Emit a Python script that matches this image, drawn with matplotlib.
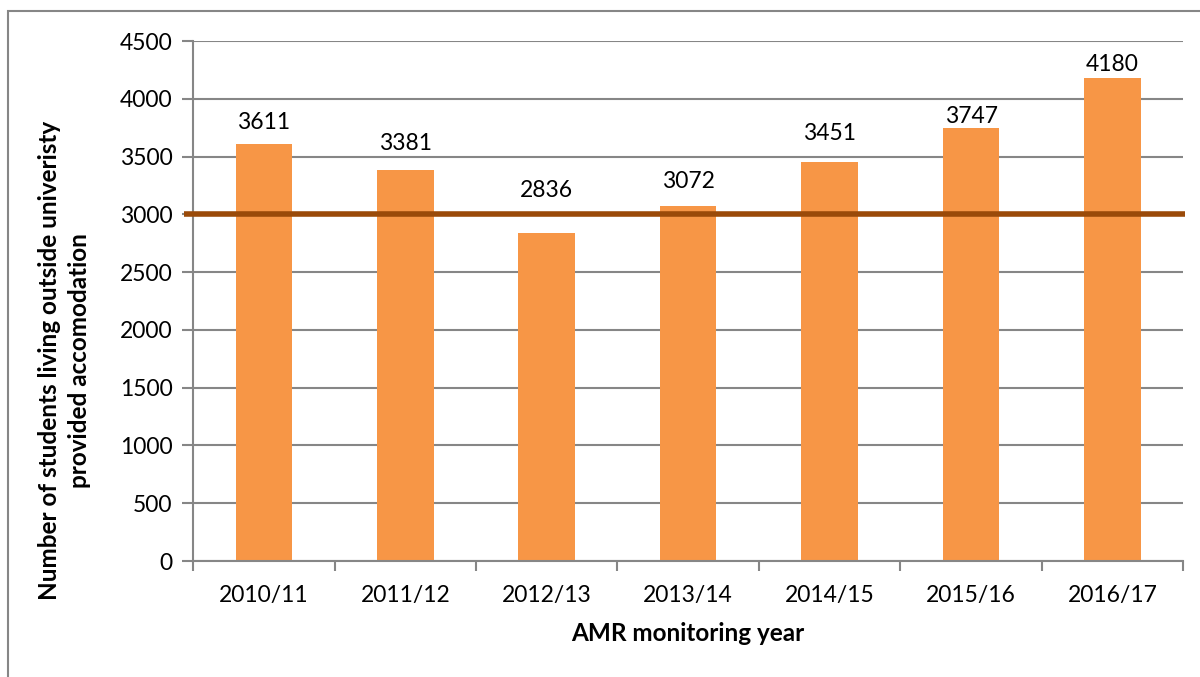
import matplotlib
matplotlib.use("Agg")
import matplotlib.pyplot as plt
import matplotlib.transforms as mtransforms
from matplotlib.patches import Rectangle

years = ["2010/11", "2011/12", "2012/13", "2013/14", "2014/15", "2015/16", "2016/17"]
students = [3611, 3381, 2836, 3072, 3451, 3747, 4180]
target = 3000

# label lift above each bar top (points), as placed in the original
label_lift = [15, 19.5, 31, 18, 21, 8.6, 9.4]

plt.rcParams["font.family"] = ["Lato", "DejaVu Sans"]

fig = plt.figure(figsize=(12, 6.77), dpi=100)
ax = fig.add_axes([0.161, 0.1713, 0.825, 0.7681])

x = list(range(len(years)))
ax.bar(x, students, width=0.4, color="#F79646", zorder=2)
for xi, v, d in zip(x, students, label_lift):
    ax.annotate(str(v), (xi, v), xytext=(0, d), textcoords="offset points",
                ha="center", va="center", fontsize=16.5, color="black", zorder=4)

# target line, runs slightly past the left axis
trans = mtransforms.blended_transform_factory(ax.transAxes, ax.transData)
ax.plot([-0.009, 1.002], [target, target], transform=trans, color="#9A4A09",
        lw=4, clip_on=False, zorder=3, solid_capstyle="butt")

ax.set_xlim(-0.5, len(years) - 0.5)
ax.set_ylim(0, 4500)
ax.set_yticks(range(0, 4501, 500))
ax.set_xticks(x)
ax.set_xticklabels(years)
ax.set_xticks([i - 0.5 for i in range(len(years) + 1)], minor=True)
ax.tick_params(axis="x", which="major", length=0, pad=17, labelsize=16.5)
ax.tick_params(axis="x", which="minor", length=7, width=1.5, color="#868686", direction="out")
ax.tick_params(axis="y", length=8, width=1.5, color="#868686", labelsize=16.5, pad=7)
ax.yaxis.grid(True, color="#868686", lw=1.5, zorder=0)
ax.set_axisbelow(True)
for s in ["top", "right"]:
    ax.spines[s].set_visible(False)
for s in ["left", "bottom"]:
    ax.spines[s].set_color("#868686")
    ax.spines[s].set_linewidth(1.5)

ax.set_xlabel("AMR monitoring year", fontsize=17.5, fontweight="bold", labelpad=12)
ax.set_ylabel("Number of students living outside univeristy\nprovided accomodation",
              fontsize=17.5, fontweight="bold", linespacing=1.4)
ax.yaxis.set_label_coords(-0.103, 0.385)

# outer chart frame
fig.patches.append(Rectangle((8 / 1200, -0.1), 1.2, 1 - 11 / 677 + 0.1,
                             transform=fig.transFigure, fill=False,
                             edgecolor="#868686", lw=1.5))

plt.savefig("out.png", dpi=100)
